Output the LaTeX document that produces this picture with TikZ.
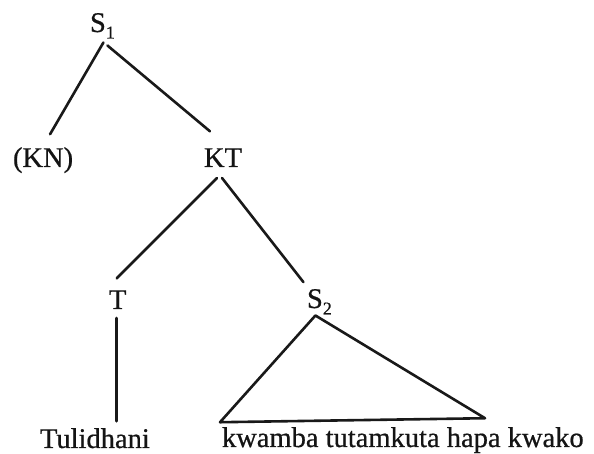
\documentclass[tikz,border=0pt]{standalone}
\usepackage{fontspec}
\setmainfont{Liberation Serif}[FakeBold=0.6]
\usetikzlibrary{calc}
\newcommand{\subsc}[1]{\raisebox{-6.5pt}{\fontsize{18}{18}\selectfont #1}}
\begin{document}
\begin{tikzpicture}[x=1pt,y=1pt,
  lbl/.style={inner sep=0pt, outer sep=0pt, anchor=base west, text=black!92,
    font=\fontsize{28.5}{30}\selectfont},
  branch/.style={line width=2.6pt, draw=black!90, line cap=round, line join=round}]
\useasboundingbox (0,0) rectangle (594,454);
\fill[white] (0,0) rectangle (594,454);
% nodes
\node[lbl] (s1)  at (90,422)  {S\subsc{1}};
\node[lbl] (kn)  at (13,287)  {(KN)};
\node[lbl] (kt)  at (204,287) {KT};
\node[lbl] (t)   at (109,145) {T};
\node[lbl] (s2)  at (307,146) {S\subsc{2}};
\node[lbl] (tul) at (40,6)    {Tulidhani};
\node[lbl] (kw)  at (222,7)   {kwamba tutamkuta hapa kwako};
% roof corners
\coordinate (rl) at ($(kw.north west)+(-2,5)$);
\coordinate (rr) at ($(kw.north west)+(263,9)$);
% connectors
\draw[branch] ($(s1.south)+(1,-4)$) -- ($(kn.north)+(7,13)$);
\draw[branch] ($(s1.south)+(5,-7)$) -- ($(kt.north)+(-13,17)$);
\draw[branch] ($(kt.south)+(-6,-11)$) -- ($(t.north)+(-1,12)$);
\draw[branch] ($(kt.south)+(-1,-11)$) -- ($(s2.north)+(-16,7)$);
\draw[branch] ($(t.south)+(-1,-9)$) -- ($(t.south |- tul.north)+(-1,7)$);
\draw[branch] ($(s2.south)+(-4,-1)$) -- (rl) -- (rr) -- cycle;
\end{tikzpicture}
\end{document}
